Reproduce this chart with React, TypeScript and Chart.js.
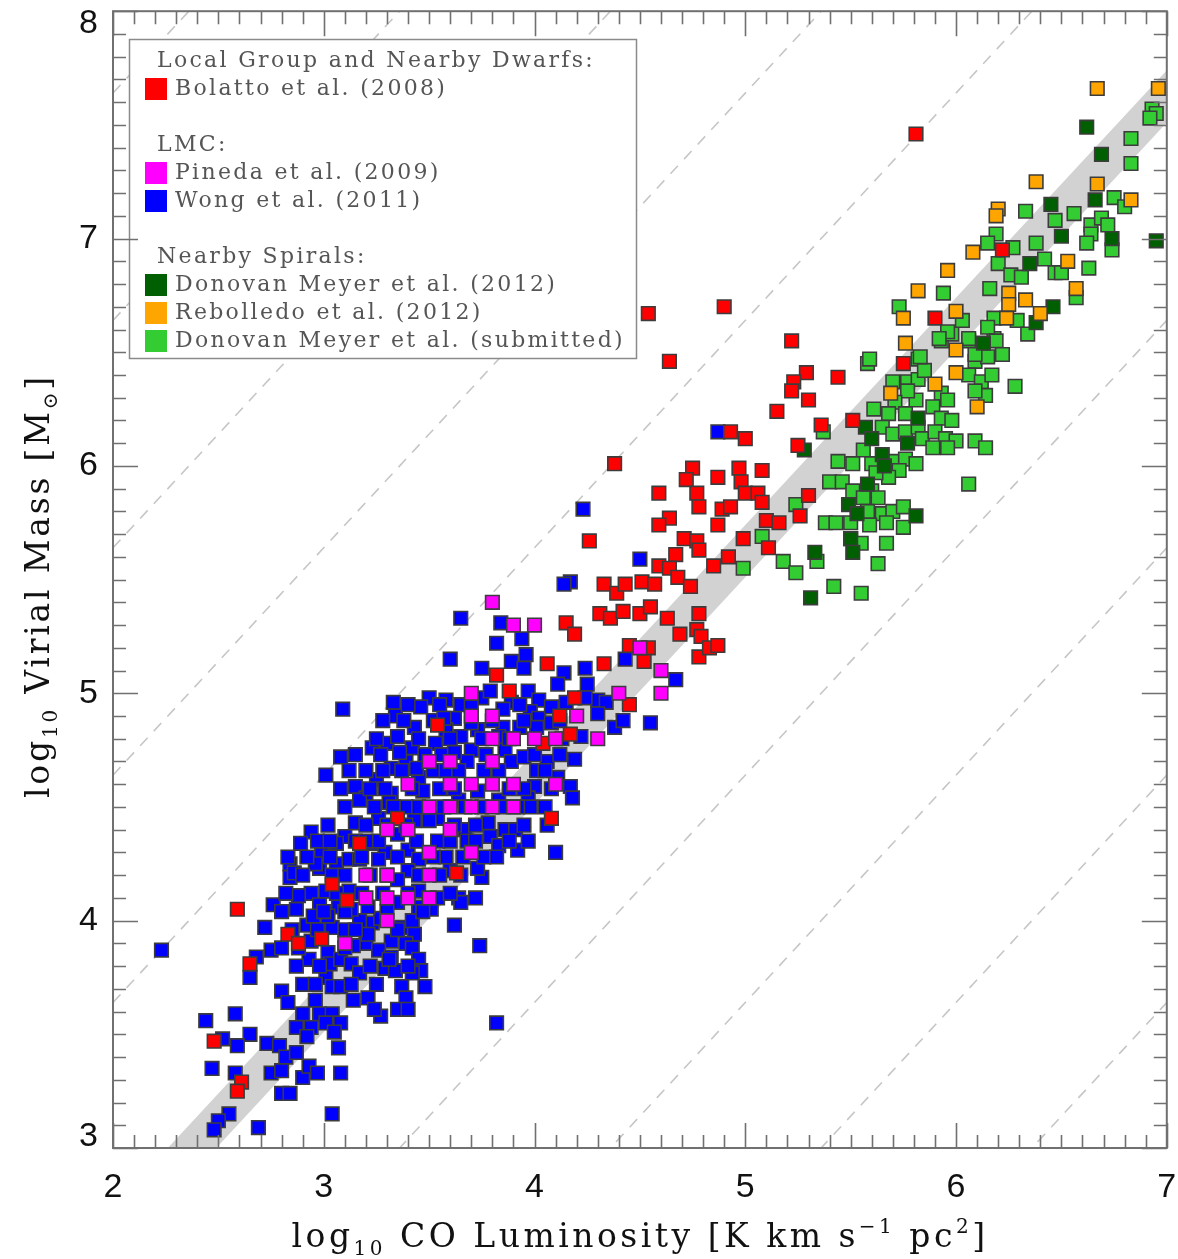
import React, { useEffect, useRef } from 'react';
import { Chart, registerables } from 'chart.js';

Chart.register(...registerables);

// ---------------- data ----------------
const X_MIN = 2, X_MAX = 7, Y_MIN = 3, Y_MAX = 8;
const xTickValues = [2, 3, 4, 5, 6, 7];
const yTickValues = [3, 4, 5, 6, 7, 8];
const minorStep = 0.1;
const bandOffsets = [0.51, 0.74];
const dashedOffsets = [-3.36, -2.36, -1.36, -0.36, 1.64, 2.64, 3.64, 4.64, 5.64];

type P = [number, number];

const bolatto: P[] = [
  [5.81,7.46],[4.54,6.67],[4.90,6.70],[4.64,6.46],[5.22,6.55],[4.38,6.01],[5.29,6.41],[5.23,6.37],[5.22,6.33],[5.30,6.29],
  [5.15,6.24],[5.44,6.39],[5.36,6.18],[5.51,6.20],[5.75,6.45],[6.22,6.95],[5.90,6.65],[4.93,6.15],[5.00,6.12],[5.25,6.09],
  [4.75,5.99],[4.72,5.94],[4.77,5.88],[4.78,5.82],[4.59,5.88],[4.87,5.95],[4.97,5.99],[5.08,5.98],[4.98,5.93],[5.00,5.88],
  [5.06,5.88],[5.08,5.84],[4.89,5.81],[4.93,5.82],[4.87,5.74],[4.64,5.77],[4.59,5.74],[4.71,5.68],[4.77,5.67],[4.78,5.63],
  [4.67,5.61],[4.99,5.68],[5.10,5.76],[5.16,5.75],[5.11,5.64],[5.30,5.87],[5.26,5.78],[4.92,5.60],[4.85,5.56],[4.59,5.56],
  [4.64,5.55],[4.68,5.51],[4.74,5.47],[4.26,5.67],[4.33,5.48],[4.39,5.44],[4.43,5.48],[4.51,5.49],[4.57,5.48],[4.31,5.35],
  [4.36,5.33],[4.42,5.36],[4.50,5.35],[4.55,5.38],[4.63,5.33],[4.78,5.35],[4.15,5.31],[4.19,5.26],[4.69,5.26],[4.77,5.28],
  [4.79,5.25],[4.78,5.16],[4.83,5.20],[4.87,5.21],[4.45,5.21],[4.54,5.20],[4.52,5.14],[4.33,5.13],[4.06,5.13],[4.19,4.98],
  [4.45,4.95],[3.82,5.08],[3.88,5.01],[4.12,4.90],[4.17,4.82],[4.04,4.78],[3.54,4.86],[3.35,4.45],[4.08,4.45],[3.17,4.34],
  [3.63,4.21],[3.04,4.16],[3.11,4.09],[2.59,4.05],[2.83,3.94],[2.88,3.90],[2.99,3.92],[2.65,3.81],[2.48,3.47],[2.61,3.29],
  [2.59,3.25],
];

const pineda: P[] = [
  [3.8,5.4],[3.9,5.3],[4.0,5.3],[3.7,5.0],[3.7,4.9],[3.8,4.9],[3.8,4.8],[3.9,4.8],[4.0,4.8],[4.1,4.8],
  [4.2,4.9],[4.3,4.8],[4.4,5.0],[3.5,4.7],[3.6,4.7],[3.8,4.7],[3.4,4.6],[3.6,4.6],[3.7,4.6],[3.8,4.6],
  [3.9,4.6],[4.1,4.6],[3.5,4.5],[3.6,4.5],[3.7,4.5],[3.8,4.5],[3.9,4.5],[3.3,4.4],[3.4,4.4],[3.6,4.4],
  [3.5,4.3],[3.7,4.3],[3.2,4.2],[3.3,4.2],[3.5,4.2],[3.2,4.1],[3.3,4.1],[3.4,4.1],[3.5,4.1],[3.3,4.0],
  [3.1,3.9],[4.6,5.1],[4.6,5.0],[4.5,5.2],
];

const wong: P[] = [
  [2.84,4.25],[2.84,4.19],[2.76,4.07],[2.87,4.05],[2.72,3.97],[2.92,3.98],[2.23,3.87],[2.75,3.87],[2.68,3.84],[2.65,3.75],
  [2.93,3.83],[2.94,3.91],[3.02,3.86],[3.03,3.81],[3.08,3.83],[3.13,3.81],[3.17,3.77],[3.01,3.75],[3.04,3.71],[3.08,3.71],
  [2.80,3.69],[2.83,3.64],[2.96,3.65],[2.90,3.59],[2.98,3.59],[3.04,3.59],[3.08,3.55],[2.87,3.53],[2.94,3.53],[3.01,3.55],
  [2.92,3.49],[3.05,3.51],[2.44,3.56],[2.58,3.59],[2.52,3.48],[2.65,3.50],[2.59,3.45],[2.73,3.46],[2.79,3.45],[2.82,3.40],
  [2.87,3.42],[3.07,3.44],[2.47,3.35],[2.58,3.33],[2.75,3.33],[2.80,3.34],[2.90,3.31],[2.93,3.36],[2.97,3.33],[3.08,3.33],
  [2.80,3.24],[2.84,3.24],[2.55,3.15],[2.50,3.12],[2.48,3.08],[3.04,3.15],[2.69,3.09],
  [3.23,3.99],[3.27,4.01],[3.17,4.00],[3.37,3.97],[3.42,4.00],[3.43,3.94],[3.32,3.91],[3.39,3.90],[3.20,3.90],[3.26,3.87],
  [3.32,3.84],[3.42,3.88],[3.45,3.83],[3.46,3.78],[3.29,3.79],[3.34,3.78],[3.42,3.77],[3.25,3.72],[3.37,3.71],[3.48,3.71],
  [3.21,3.66],[3.39,3.66],[3.35,3.61],[3.27,3.58],[3.62,3.98],[3.74,3.89],[3.82,3.55],[3.75,4.19],[3.72,4.10],[3.64,4.10],
  [3.65,4.08],[3.51,4.05],[3.54,4.10],[2.98,4.23],[3.01,4.13],[2.94,4.12],[3.07,4.06],[3.13,4.05],[3.21,4.06],[3.35,4.08],
  [3.45,4.06],[3.04,3.97],[3.10,3.96],
  [3.65,5.33],[3.84,5.31],[3.82,5.22],[3.94,5.24],[3.96,5.17],[3.60,5.15],[3.75,5.11],[3.89,5.14],[3.95,5.11],[4.14,5.09],
  [4.24,5.11],[4.11,5.04],[4.25,5.04],[4.30,4.97],[4.34,4.96],[3.09,4.93],[3.33,4.96],[3.34,4.90],[3.50,4.98],[3.46,4.94],
  [3.58,4.97],[3.62,4.89],[3.75,4.98],[3.79,5.01],[3.89,4.96],[3.97,5.01],[4.02,4.97],[3.98,4.92],[4.02,4.89],[4.15,4.96],
  [4.24,4.98],[4.30,4.91],[4.38,4.85],[3.43,4.85],[3.58,4.84],[3.65,4.81],[3.73,4.84],[3.85,4.85],[3.93,4.85],[4.01,4.85],
  [3.23,4.76],[3.30,4.78],[3.08,4.72],[3.01,4.64],[3.15,4.59],[3.20,4.54],[3.25,4.62],[3.32,4.67],[3.39,4.70],[3.42,4.76],
  [3.53,4.78],[3.70,4.75],[3.68,4.70],[3.86,4.75],[3.89,4.70],[3.95,4.72],[4.06,4.70],[4.19,4.71],[4.01,4.66],[4.11,4.63],
  [4.17,4.59],[4.18,4.54],[4.00,4.59],[3.97,4.54],[3.98,4.50],[3.45,4.63],[3.47,4.57],[3.32,4.56],[3.39,4.50],[3.31,4.52],
  [3.26,4.45],[3.43,4.44],[3.54,4.45],[3.78,4.43],[3.86,4.40],[3.91,4.40],[3.79,4.37],[3.67,4.40],[4.10,4.30],[4.06,4.42],
  [3.15,4.43],[3.10,4.37],[3.06,4.34],[2.94,4.39],[2.89,4.34],[2.83,4.28],[2.86,4.21],[2.99,4.30],[3.06,4.25],[3.12,4.27],
  [3.23,4.34],[3.29,4.30],[3.40,4.31],[3.45,4.27],[3.58,4.28],[3.60,4.22],[3.73,4.23],[3.76,4.28],[3.40,4.22],[3.04,4.20],
  [2.96,4.25],
  [4.23,5.81],[4.50,5.59],[4.17,5.49],[4.14,5.48],[4.43,5.15],[4.67,5.06],[4.87,6.15],[4.42,4.88],[4.55,4.87],
  [3.17,4.53],[3.26,4.35],[3.35,4.38],[3.50,4.44],[3.64,4.53],[3.73,4.57],[3.83,4.53],[3.54,4.35],[3.68,4.35],[3.83,4.33],
  [3.92,4.31],[3.17,4.27],[3.26,4.27],[3.35,4.18],[3.45,4.13],[3.12,4.13],[2.98,4.07],[2.88,4.11],[2.95,4.02],[3.02,4.02],
  [3.14,3.89],[3.21,3.94],[3.31,3.83],[3.40,3.80],[3.24,3.61],[3.14,3.65],[3.40,3.61],
  [3.40,4.95],[3.55,4.95],[3.65,4.95],[3.70,4.94],[3.85,4.93],[3.93,4.95],[4.08,4.94],
  [3.28,4.88],[3.38,4.88],[3.52,4.88],[3.57,4.89],[3.70,4.87],[3.80,4.88],[3.95,4.88],[4.08,4.87],[4.12,4.88],
  [3.25,4.80],[3.35,4.81],[3.45,4.80],[3.60,4.80],[3.75,4.80],[3.83,4.81],[3.88,4.80],[4.13,4.80],[4.22,4.81],
  [3.15,4.73],[3.27,4.73],[3.36,4.74],[3.48,4.73],[3.56,4.73],[3.62,4.74],[3.77,4.73],[4.00,4.73],[4.12,4.73],
  [3.12,4.66],[3.20,4.66],[3.28,4.66],[3.37,4.66],[3.44,4.67],[3.52,4.66],[3.58,4.66],[3.64,4.66],[3.76,4.66],[3.83,4.66],[4.05,4.66],
  [3.08,4.58],[3.22,4.58],[3.29,4.58],[3.42,4.58],[3.55,4.58],[3.62,4.58],[3.88,4.58],[3.95,4.58],[4.08,4.58],
  [3.10,4.50],[3.24,4.50],[3.33,4.50],[3.45,4.50],[3.57,4.50],[3.67,4.50],[3.75,4.50],[3.85,4.50],[3.92,4.50],[4.05,4.50],
  [3.02,4.42],[3.20,4.42],[3.30,4.42],[3.39,4.42],[3.62,4.42],[3.72,4.42],[3.95,4.42],
  [2.97,4.35],[3.03,4.35],[3.15,4.35],[3.20,4.35],[3.44,4.35],[3.60,4.35],[3.72,4.35],[3.88,4.35],[3.97,4.35],
  [2.92,4.28],[3.03,4.28],[3.18,4.28],[3.35,4.28],[3.52,4.28],[3.66,4.28],[3.82,4.28],
  [2.90,4.20],[3.10,4.20],[3.22,4.20],[3.30,4.20],[3.45,4.20],[3.55,4.20],[3.65,4.20],
  [2.82,4.12],[3.06,4.12],[3.18,4.12],[3.28,4.12],[3.40,4.12],[3.60,4.12],
  [2.80,4.04],[3.00,4.04],[3.10,4.04],[3.30,4.04],[3.47,4.04],
  [2.85,3.96],[2.97,3.96],[3.15,3.96],[3.35,3.96],
  [2.80,3.88],[2.88,3.88],[3.10,3.88],
  [2.87,3.80],[2.98,3.80],[3.22,3.80],
  [2.90,3.72],[2.96,3.72],[3.13,3.72],
];

const donovanMeyer2012: P[] = [
  [6.13,6.54],[5.82,6.21],[5.57,6.17],[5.60,6.12],[5.77,6.10],[5.65,6.05],[5.66,6.00],[5.58,5.92],[5.49,5.83],[5.53,5.79],
  [5.81,5.78],[5.50,5.68],[5.51,5.62],[5.33,5.62],[5.31,5.42],[6.62,7.49],[6.69,7.37],[6.45,7.15],[6.66,7.17],[6.50,7.01],
  [6.74,7.00],[6.95,6.99],[6.35,6.89],[6.46,6.70],[6.38,6.63],[5.28,6.07],
];

const rebolledo: P[] = [
  [6.67,7.66],[6.96,7.66],[6.38,7.25],[6.67,7.24],[6.83,7.17],[6.20,7.13],[6.19,7.10],[6.08,6.94],[6.53,6.90],[5.96,6.86],
  [6.57,6.78],[5.82,6.77],[6.33,6.73],[6.25,6.76],[6.25,6.71],[6.40,6.67],[6.00,6.68],[5.75,6.65],[6.24,6.65],[5.76,6.54],
  [6.00,6.51],[6.00,6.41],[5.90,6.36],[5.69,6.32],[6.10,6.26],
];

const donovanMeyerSub: P[] = [
  [5.58,6.45],[5.82,6.47],[5.77,6.37],[5.70,6.37],[5.82,6.38],[5.85,6.42],[5.93,6.55],[5.98,6.58],[6.06,6.55],[6.18,6.56],
  [6.09,6.46],[6.15,6.48],[6.22,6.49],[6.06,6.40],[6.12,6.37],[6.17,6.40],[6.14,6.31],[6.09,6.33],[6.28,6.35],[5.93,6.32],
  [5.96,6.29],[5.89,6.26],[5.93,6.21],[5.98,6.20],[5.81,6.29],[5.77,6.33],[5.71,6.28],[5.61,6.25],[5.68,6.23],[5.76,6.23],
  [5.65,6.17],[5.70,6.14],[5.76,6.15],[5.82,6.17],[5.84,6.12],[5.90,6.15],[5.95,6.12],[6.00,6.11],[5.89,6.08],[5.96,6.08],
  [6.09,6.11],[6.14,6.08],[5.56,6.07],[5.44,6.02],[5.51,6.01],[5.60,6.01],[5.70,6.02],[5.76,6.03],[5.81,6.01],[5.73,5.98],
  [5.68,5.95],[5.62,5.97],[5.40,5.93],[5.46,5.93],[5.51,5.89],[5.60,5.89],[5.63,5.86],[5.56,5.86],[5.58,5.80],[5.65,5.79],
  [5.70,5.80],[5.75,5.82],[5.38,5.75],[5.43,5.75],[5.50,5.75],[5.59,5.74],[5.67,5.75],[5.75,5.73],[5.50,5.68],[5.67,5.66],
  [5.55,5.66],[5.08,5.69],[5.18,5.58],[4.99,5.55],[5.24,5.83],[5.37,6.15],[6.06,5.92],[5.63,5.57],[5.24,5.53],[5.42,5.47],
  [5.55,5.44],[5.34,5.58],
  [6.93,7.57],[6.95,7.55],[6.92,7.53],[6.83,7.44],[6.83,7.33],[6.33,7.12],[6.75,7.18],[6.80,7.14],[6.47,7.08],[6.56,7.11],
  [6.64,7.06],[6.69,7.09],[6.72,7.06],[6.64,7.02],[6.62,6.98],[6.74,6.95],[6.19,7.02],[6.15,6.98],[6.27,6.96],[6.38,6.98],
  [6.42,6.91],[6.20,6.89],[6.26,6.84],[6.31,6.83],[6.47,6.85],[6.50,6.85],[6.63,6.87],[6.57,6.74],[6.16,6.78],[5.73,6.70],
  [5.94,6.76],[6.18,6.65],[6.15,6.61],[6.29,6.64],[6.34,6.58],[6.03,6.64],[5.96,6.59],[5.92,6.56],[6.06,6.56],[6.19,6.55],
  [6.22,6.49],[6.09,6.49],[5.83,6.48],[5.59,6.47],
];

const COLORS = {
  red: '#ff0000',
  magenta: '#ff00ff',
  blue: '#0000ff',
  darkGreen: '#005f00',
  orange: '#ffa500',
  lime: '#33cc33',
};

const legendRows: ({ text: string; color?: string } | null)[] = [
  { text: 'Local Group and Nearby Dwarfs:' },
  { text: 'Bolatto et al. (2008)', color: COLORS.red },
  null,
  { text: 'LMC:' },
  { text: 'Pineda et al. (2009)', color: COLORS.magenta },
  { text: 'Wong et al. (2011)', color: COLORS.blue },
  null,
  { text: 'Nearby Spirals:' },
  { text: 'Donovan Meyer et al. (2012)', color: COLORS.darkGreen },
  { text: 'Rebolledo et al. (2012)', color: COLORS.orange },
  { text: 'Donovan Meyer et al. (submitted)', color: COLORS.lime },
];

type Part = { t: string; s?: 'sub' | 'sup' };
const xTitle: Part[] = [
  { t: 'log' }, { t: '10', s: 'sub' }, { t: ' CO Luminosity [K km s' }, { t: '\u22121', s: 'sup' },
  { t: ' pc' }, { t: '2', s: 'sup' }, { t: ']' },
];
const yTitle: Part[] = [
  { t: 'log' }, { t: '10', s: 'sub' }, { t: ' Virial Mass [M' }, { t: '\u2299', s: 'sub' }, { t: ']' },
];

// ---------------- drawing helpers ----------------
const SERIF = '"DejaVu Serif", "Liberation Serif", serif';

function drawRich(ctx: CanvasRenderingContext2D, parts: Part[], cx: number, base: number, size: number, target: number, color: string) {
  const fontFor = (p: Part) => `${p.s ? Math.round(size * 0.62) : size}px ${SERIF}`;
  (ctx as any).letterSpacing = '0px';
  let w0 = 0, n = 0;
  for (const p of parts) { ctx.font = fontFor(p); w0 += ctx.measureText(p.t).width; n += [...p.t].length; }
  const ls = Math.max(0, (target - w0) / n);
  let x = cx - target / 2;
  ctx.fillStyle = color;
  ctx.textAlign = 'left';
  ctx.textBaseline = 'alphabetic';
  for (const p of parts) {
    ctx.font = fontFor(p);
    (ctx as any).letterSpacing = '0px';
    const w = ctx.measureText(p.t).width;
    (ctx as any).letterSpacing = `${ls}px`;
    const dy = p.s === 'sub' ? size * 0.25 : p.s === 'sup' ? -size * 0.42 : 0;
    ctx.fillText(p.t, x, base + dy);
    x += w + ls * [...p.t].length;
  }
  (ctx as any).letterSpacing = '0px';
}

const overlayPlugin = {
  id: 'overlay',
  afterDatasetsDraw(chart: any) {
    const { ctx, chartArea: a } = chart;
    const xs = chart.scales.x, ys = chart.scales.y;
    ctx.save();

    // legend box
    const bx = 129.5, by = 39.5, bw = 507, bh = 319;
    ctx.fillStyle = '#ffffff';
    ctx.fillRect(bx, by, bw, bh);
    ctx.strokeStyle = '#8a8a8a';
    ctx.lineWidth = 1.5;
    ctx.strokeRect(bx, by, bw, bh);
    ctx.font = `22px ${SERIF}`;
    (ctx as any).letterSpacing = '0px';
    const refW = ctx.measureText('Donovan Meyer et al. (submitted)').width;
    const ls = Math.max(0, (450 - refW) / 32);
    (ctx as any).letterSpacing = `${ls}px`;
    ctx.textBaseline = 'middle';
    ctx.textAlign = 'left';
    legendRows.forEach((row, i) => {
      if (!row) return;
      const yy = 60 + i * 28;
      if (row.color) {
        ctx.fillStyle = row.color;
        ctx.fillRect(145, yy - 10, 22, 22);
        ctx.fillStyle = '#555555';
        ctx.fillText(row.text, 175, yy + 1);
      } else {
        ctx.fillStyle = '#555555';
        ctx.fillText(row.text, 157, yy + 1);
      }
    });
    (ctx as any).letterSpacing = '0px';

    // ticks (inward, all four sides)
    ctx.strokeStyle = '#707070';
    ctx.lineWidth = 1.6;
    ctx.beginPath();
    const nx = Math.round((X_MAX - X_MIN) / minorStep);
    for (let i = 0; i <= nx; i++) {
      const v = X_MIN + i * minorStep;
      const px = Math.round(xs.getPixelForValue(v)) + 0.5;
      const len = i % 10 === 0 ? 25 : 13;
      ctx.moveTo(px, a.bottom); ctx.lineTo(px, a.bottom - len);
      ctx.moveTo(px, a.top); ctx.lineTo(px, a.top + len);
    }
    const ny = Math.round((Y_MAX - Y_MIN) / minorStep);
    for (let i = 0; i <= ny; i++) {
      const v = Y_MIN + i * minorStep;
      const py = Math.round(ys.getPixelForValue(v)) + 0.5;
      const len = i % 10 === 0 ? 25 : 13;
      ctx.moveTo(a.left, py); ctx.lineTo(a.left + len, py);
      ctx.moveTo(a.right, py); ctx.lineTo(a.right - len, py);
    }
    ctx.stroke();
    ctx.lineWidth = 2;
    ctx.strokeRect(a.left, a.top, a.right - a.left, a.bottom - a.top);

    // tick labels
    ctx.fillStyle = '#111111';
    ctx.font = '34px "Liberation Sans", Arial, sans-serif';
    ctx.textBaseline = 'middle';
    ctx.textAlign = 'center';
    for (const v of xTickValues) {
      let px = xs.getPixelForValue(v);
      px = Math.min(px, chart.width - 11);
      ctx.fillText(String(v), px, a.bottom + 40);
    }
    ctx.textAlign = 'right';
    for (const v of yTickValues) {
      let py = ys.getPixelForValue(v);
      py = Math.max(a.top + 12, Math.min(a.bottom - 11, py));
      ctx.fillText(String(v), a.left - 15, py);
    }

    // axis titles
    drawRich(ctx, xTitle, 640, 1247, 33, 697, '#111111');
    ctx.save();
    ctx.translate(49, 586);
    ctx.rotate(-Math.PI / 2);
    drawRich(ctx, yTitle, 0, 0, 33, 424, '#111111');
    ctx.restore();

    ctx.restore();
  },
};

const toXY = (arr: P[]) => arr.map(([x, y]) => ({ x, y }));

export default function App() {
  const ref = useRef<HTMLCanvasElement | null>(null);

  useEffect(() => {
    document.body.style.margin = '0';
    if (!ref.current) return;
    const markers = (label: string, data: P[], color: string, order: number) => ({
      type: 'scatter' as const,
      label,
      data: toXY(data),
      backgroundColor: color,
      borderColor: '#3c3c3c',
      borderWidth: 1.6,
      pointStyle: 'rect' as const,
      pointRadius: 9.6,
      pointHoverRadius: 9.6,
      clip: 0,
      order,
    });
    const datasets: any[] = [
      {
        type: 'line', label: 'band-low',
        data: [{ x: X_MIN, y: X_MIN + bandOffsets[0] }, { x: X_MAX, y: X_MAX + bandOffsets[0] }],
        borderWidth: 0, borderColor: 'rgba(0,0,0,0)', pointRadius: 0, fill: false, order: 30,
      },
      {
        type: 'line', label: 'band-high',
        data: [{ x: X_MIN, y: X_MIN + bandOffsets[1] }, { x: X_MAX, y: X_MAX + bandOffsets[1] }],
        borderWidth: 0, borderColor: 'rgba(0,0,0,0)', pointRadius: 0, fill: '-1',
        backgroundColor: '#d2d2d2', order: 29,
      },
      ...dashedOffsets.map((o) => ({
        type: 'line', label: `alpha ${o}`,
        data: [{ x: X_MIN, y: X_MIN + o }, { x: X_MAX, y: X_MAX + o }],
        borderColor: '#c6c6c6', borderWidth: 1.6, borderDash: [11, 9], pointRadius: 0, fill: false, order: 20,
      })),
      markers('Wong et al. (2011)', wong, COLORS.blue, 6),
      markers('Donovan Meyer et al. (submitted)', donovanMeyerSub, COLORS.lime, 5),
      markers('Donovan Meyer et al. (2012)', donovanMeyer2012, COLORS.darkGreen, 4),
      markers('Rebolledo et al. (2012)', rebolledo, COLORS.orange, 3),
      markers('Bolatto et al. (2008)', bolatto, COLORS.red, 2),
      markers('Pineda et al. (2009)', pineda, COLORS.magenta, 1),
    ];
    const chart = new Chart(ref.current, {
      type: 'scatter',
      data: { datasets },
      options: {
        animation: false,
        responsive: false,
        devicePixelRatio: 1,
        events: [],
        layout: { padding: { left: 113, top: 10, right: 6, bottom: 111 } },
        plugins: { legend: { display: false }, tooltip: { enabled: false } },
        scales: {
          x: { type: 'linear', min: X_MIN, max: X_MAX, display: false },
          y: { type: 'linear', min: Y_MIN, max: Y_MAX, display: false },
        },
      },
      plugins: [overlayPlugin],
    } as any);
    return () => chart.destroy();
  }, []);

  return (
    <canvas ref={ref} width={1178} height={1259} style={{ display: 'block', width: 1178, height: 1259 }} />
  );
}
